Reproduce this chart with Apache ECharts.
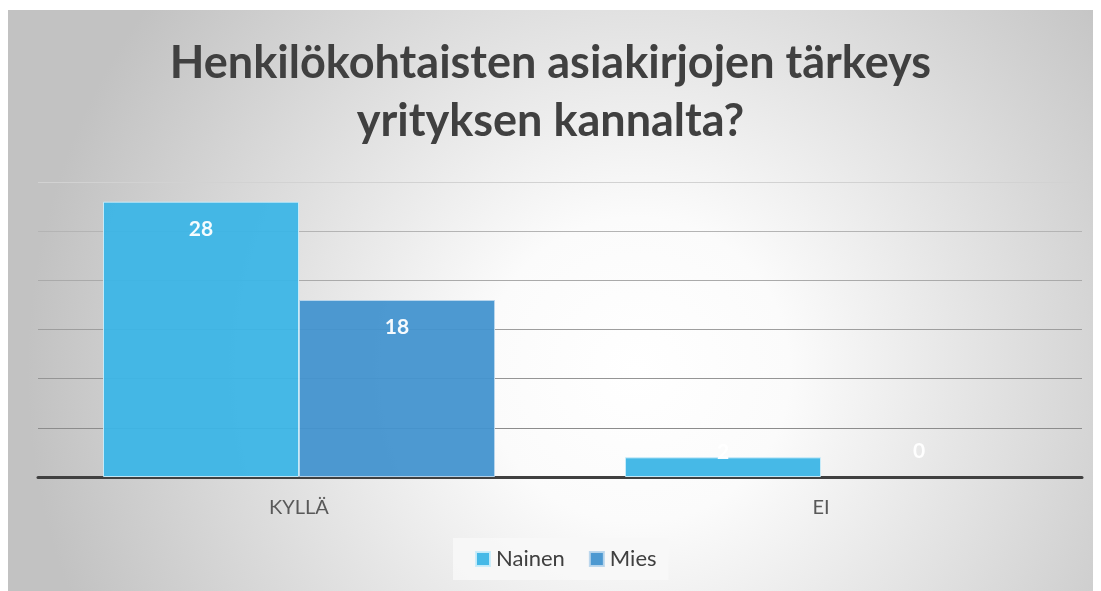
<!DOCTYPE html>
<html>
<head>
<meta charset="utf-8">
<script src="https://cdn.jsdelivr.net/npm/echarts@6/dist/echarts.min.js"></script>
<style>
html,body{margin:0;padding:0;background:#fff;}
#c{width:1101px;height:591px;}
</style>
</head>
<body>
<div id="c"></div>
<script>
const titleText = 'Henkilökohtaisten asiakirjojen tärkeys\nyrityksen kannalta?';
const categories = ['KYLLÄ', 'EI'];
const seriesNames = ['Nainen', 'Mies'];
const nainenValues = [28, 2];
const miesValues = [18, 0];
const colors = ['#3cb5e6', '#4393cf'];

const chart = echarts.init(document.getElementById('c'), null, {renderer: 'canvas'});
const font = 'Lato, "Open Sans", sans-serif';

function makeData(vals) {
  return vals.map(function (v, i) {
    if (i === 1) {
      const item = {value: v, label: {position: 'top', distance: v === 0 ? 15 : -5}};
      if (v === 0) item.itemStyle = {borderWidth: 0, color: 'rgba(0,0,0,0)'};
      return item;
    }
    return v;
  });
}

const option = {
  animation: false,
  graphic: [{
    type: 'rect',
    z: -10,
    silent: true,
    shape: {x: 8, y: 10, width: 1085, height: 581},
    style: {
      fill: {
        type: 'radial', x: 0.58, y: 0.62, r: 1.05,
        colorStops: [
          {offset: 0, color: '#ffffff'},
          {offset: 0.25, color: '#fbfbfb'},
          {offset: 1, color: '#c2c2c2'}
        ]
      }
    }
  }],
  title: {
    text: titleText,
    left: 'center',
    top: 29,
    textStyle: {
      fontFamily: font,
      fontWeight: 'bold',
      fontSize: 45,
      lineHeight: 58,
      color: '#404040'
    }
  },
  legend: {
    data: seriesNames,
    bottom: 11,
    left: 453,
    icon: 'rect',
    itemWidth: 14,
    itemHeight: 14,
    itemGap: 24,
    padding: [10, 12, 10, 22],
    backgroundColor: 'rgba(248,248,248,0.85)',
    textStyle: {fontFamily: font, fontSize: 22, color: '#404040', padding: [0, 0, 0, 1]}
  },
  grid: {left: 38, right: 19, top: 182, bottom: 114},
  xAxis: {
    type: 'category',
    data: categories,
    axisLine: {lineStyle: {color: '#404040', width: 3}},
    axisTick: {show: false},
    axisLabel: {fontFamily: font, fontSize: 20, color: '#595959', margin: 21}
  },
  yAxis: {
    type: 'value',
    min: 0, max: 30, interval: 5,
    axisLabel: {show: false},
    axisLine: {show: false},
    axisTick: {show: false},
    splitLine: {lineStyle: {color: ['#888888', '#8c8c8c', '#959595', '#9e9e9e', '#aaaaaa', '#b4b4b4', '#d2d2d2'], width: 1}}
  },
  series: [
    {
      name: seriesNames[0],
      type: 'bar',
      data: makeData(nainenValues),
      barWidth: 196,
      barGap: '0%',
      itemStyle: {color: colors[0], opacity: 0.95, borderColor: '#c9ecfa', borderWidth: 1},
      label: {show: true, position: 'insideTop', distance: 17, color: '#ffffff', fontFamily: font, fontWeight: 'bold', fontSize: 21}
    },
    {
      name: seriesNames[1],
      type: 'bar',
      data: makeData(miesValues),
      barWidth: 196,
      barGap: '0%',
      itemStyle: {color: colors[1], opacity: 0.95, borderColor: '#b9d6ec', borderWidth: 1},
      label: {show: true, position: 'insideTop', distance: 17, color: '#ffffff', fontFamily: font, fontWeight: 'bold', fontSize: 21}
    }
  ]
};
chart.setOption(option);
</script>
</body>
</html>
